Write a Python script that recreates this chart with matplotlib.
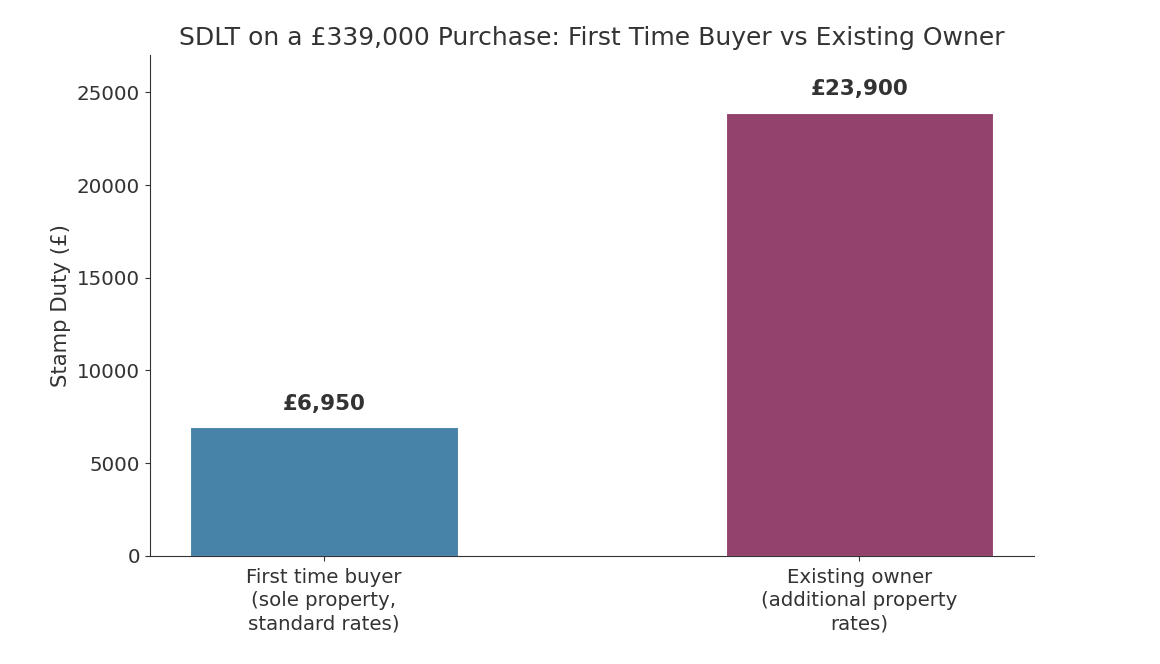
import matplotlib
matplotlib.use('Agg')
import matplotlib.pyplot as plt

categories = ['First time buyer\n(sole property,\nstandard rates)',
              'Existing owner\n(additional property\nrates)']
duty = [6950, 23900]
bar_labels = ['£6,950', '£23,900']
colors = ['#4783a9', '#93426e']

text_color = '#333333'
plt.rcParams['font.family'] = 'DejaVu Sans'
plt.rcParams['text.color'] = text_color
plt.rcParams['axes.labelcolor'] = text_color
plt.rcParams['xtick.color'] = text_color
plt.rcParams['ytick.color'] = text_color
plt.rcParams['axes.edgecolor'] = text_color

fig = plt.figure(figsize=(11.6, 6.64), dpi=100)
ax = fig.add_axes([0.129, 0.163, 0.762, 0.754])

x = range(len(categories))
ax.bar(x, duty, width=0.5, color=colors, edgecolor='white', linewidth=0.8)

top = max(duty)
for i, v in enumerate(duty):
    ax.text(i, v + 0.03 * top, bar_labels[i], ha='center', va='bottom',
            fontsize=15.5, fontweight='bold', color=text_color)

ax.set_xticks(list(x))
ax.set_xticklabels(categories, fontsize=14.2, linespacing=1.3)
ax.tick_params(axis='y', labelsize=14.3)
ax.tick_params(axis='x', pad=5)
ax.set_ylim(0, top * 1.13)
ax.set_ylabel('Stamp Duty (£)', fontsize=15.3)
ax.set_title('SDLT on a £339,000 Purchase: First Time Buyer vs Existing Owner',
             fontsize=18, pad=7)

ax.spines['top'].set_visible(False)
ax.spines['right'].set_visible(False)

fig.savefig('out.png', dpi=100)
